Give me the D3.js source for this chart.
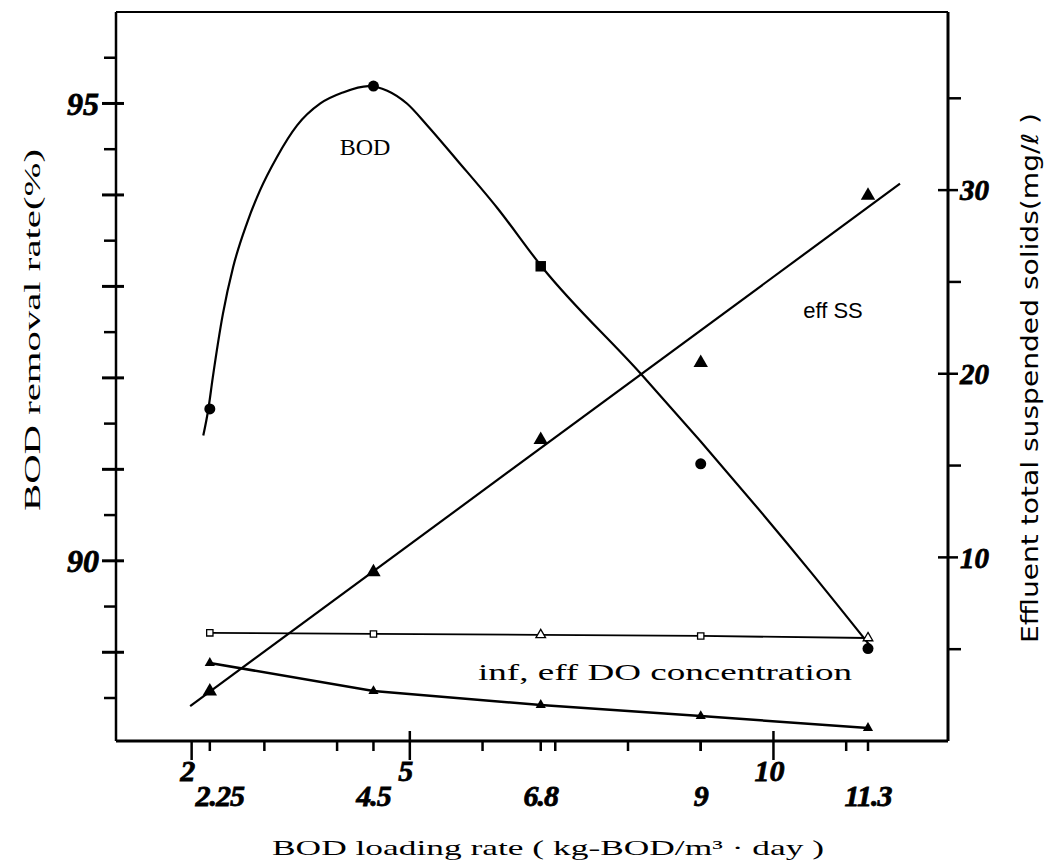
<!DOCTYPE html>
<html>
<head>
<meta charset="utf-8">
<script src="https://cdn.jsdelivr.net/npm/d3@7"></script>
<style>
  body { margin: 0; background: #fff; }
  svg text { fill: #000; }
</style>
</head>
<body>
<svg id="chart" width="1049" height="865"></svg>
<script>
// data
var loading    = [2.25, 4.5, 6.8, 9, 11.3];           // kg-BOD/m3.day
var bodRemoval = [91.66, 95.19, 93.22, 91.06, 89.04];   // %
var effSS      = [2.7, 9.2, 16.4, 20.6, 29.7];          // mg/l
var infDO      = [5.89, 5.83, 5.78, 5.72, 5.61];        // mg/l
var effDO      = [4.25, 2.72, 1.96, 1.36, 0.71];        // mg/l

// hand drawn BOD curve
var bodCurveX = [2.16, 2.23, 2.29, 2.43, 2.57, 2.76, 2.94, 3.17, 3.45, 3.77, 4.08, 4.43, 4.69, 4.96, 5.24, 5.65, 6.2, 6.82, 8.17, 10.5, 11.36];
var bodCurveY = [91.37, 91.66, 92.0, 92.7, 93.21, 93.69, 94.05, 94.41, 94.76, 95.0, 95.12, 95.19, 95.14, 95.0, 94.76, 94.38, 93.86, 93.21, 92.05, 89.89, 89.04];

// straight fit for eff SS
var ssFitX = [1.98, 11.74];
var ssFitY = [1.9, 30.35];

var xMajor = [2, 5, 10];
var xMinor = [3, 4, 6, 7, 8, 9, 11];
var leftLabels  = [90, 95];
var leftTicks   = [88.5, 89, 89.5, 90, 90.5, 91, 91.5, 92, 92.5, 93, 93.5, 94, 94.5, 95, 95.5];
var rightLabels = [10, 20, 30];
var rightTicks  = [5, 10, 15, 20, 25, 30, 35];

var margin = {top: 12, left: 116},
    width = 832,
    height = 729;

var svg = d3.select("#chart");
var g = svg.append("g").attr("transform", "translate(" + margin.left + "," + margin.top + ")");

var x  = d3.scaleLinear().domain([0.96, 12.4]).range([0, width]);
var yL = d3.scaleLinear().domain([88.03, 96.0]).range([height, 0]);
var yR = d3.scaleLinear().domain([0, 39.7]).range([height, 0]);

var serif = "'Liberation Serif', 'DejaVu Serif', serif";

// frame
g.append("line").attr("x1", 0).attr("x2", width).attr("y1", 0).attr("y2", 0)
    .attr("stroke", "#000").attr("stroke-width", 2);
g.append("line").attr("x1", 0).attr("x2", 0).attr("y1", 0).attr("y2", height)
    .attr("stroke", "#000").attr("stroke-width", 2.5);
g.append("line").attr("x1", width).attr("x2", width).attr("y1", 0).attr("y2", height)
    .attr("stroke", "#000").attr("stroke-width", 3);
g.append("line").attr("x1", 0).attr("x2", width).attr("y1", height).attr("y2", height)
    .attr("stroke", "#000").attr("stroke-width", 3);

// left ticks
g.selectAll(".ltick").data(leftTicks).enter().append("line")
    .attr("class", "ltick")
    .attr("x1", function(d) { return d % 1 === 0 ? -14 : -12; })
    .attr("x2", function(d) { return d % 1 === 0 ? 8 : 0; })
    .attr("y1", function(d) { return yL(d); })
    .attr("y2", function(d) { return yL(d); })
    .attr("stroke", "#000")
    .attr("stroke-width", function(d) { return d % 1 === 0 ? 3 : 2.5; });

function boldLabel(sel, size) {
    sel.style("font-family", serif)
        .style("font-style", "italic")
        .style("font-weight", "bold")
        .style("font-size", size)
        .attr("stroke", "#000")
        .attr("stroke-width", 0.8);
}

g.selectAll(".llab").data(leftLabels).enter().append("text")
    .attr("class", "llab")
    .attr("x", -17)
    .attr("y", function(d) { return yL(d); })
    .attr("dy", "0.35em")
    .attr("text-anchor", "end")
    .text(function(d) { return d; })
    .call(boldLabel, "32px");

// right ticks
g.selectAll(".rtick").data(rightTicks).enter().append("line")
    .attr("class", "rtick")
    .attr("x1", function(d) { return d % 10 === 0 ? width - 10 : width; })
    .attr("x2", function(d) { return d % 10 === 0 ? width + 10 : width + 13; })
    .attr("y1", function(d) { return yR(d); })
    .attr("y2", function(d) { return yR(d); })
    .attr("stroke", "#000")
    .attr("stroke-width", 2.5);

g.selectAll(".rlab").data(rightLabels).enter().append("text")
    .attr("class", "rlab")
    .attr("x", width + 12)
    .attr("y", function(d) { return yR(d); })
    .attr("dy", "0.35em")
    .text(function(d) { return d; })
    .call(boldLabel, "29px");

// bottom ticks
g.selectAll(".xmaj").data(xMajor).enter().append("line")
    .attr("class", "xmaj")
    .attr("x1", function(d) { return x(d); })
    .attr("x2", function(d) { return x(d); })
    .attr("y1", function(d) { return d === 2 ? height : height - 10; })
    .attr("y2", height + 19)
    .attr("stroke", "#000").attr("stroke-width", 2.5);

g.selectAll(".xmin").data(xMinor.concat(loading)).enter().append("line")
    .attr("class", "xmin")
    .attr("x1", function(d) { return x(d); })
    .attr("x2", function(d) { return x(d); })
    .attr("y1", height)
    .attr("y2", height + 10)
    .attr("stroke", "#000").attr("stroke-width", 2.5);

g.selectAll(".xmajlab").data(xMajor).enter().append("text")
    .attr("class", "xmajlab")
    .attr("x", function(d) { return x(d) - 4; })
    .attr("y", height + 40)
    .attr("text-anchor", "middle")
    .text(function(d) { return d; })
    .call(boldLabel, "30px");

g.selectAll(".xdatalab").data(loading).enter().append("text")
    .attr("class", "xdatalab")
    .attr("x", function(d) { return x(d) + (d === 2.25 ? 10 : 0); })
    .attr("y", height + 65)
    .attr("text-anchor", "middle")
    .style("letter-spacing", "-1px")
    .text(function(d) { return d; })
    .call(boldLabel, "30px");

// axis titles
g.append("text")
    .attr("transform", "translate(-84," + 318 + ") rotate(-90)")
    .attr("text-anchor", "middle")
    .attr("dy", "0.35em")
    .attr("textLength", 362)
    .attr("lengthAdjust", "spacingAndGlyphs")
    .style("font-family", serif)
    .style("font-size", "23px")
    .text("BOD removal rate(%)");

g.append("text")
    .attr("transform", "translate(" + (width + 82) + "," + 366 + ") rotate(-90)")
    .attr("text-anchor", "middle")
    .attr("dy", "0.35em")
    .attr("textLength", 530)
    .attr("lengthAdjust", "spacingAndGlyphs")
    .style("font-family", "'Liberation Sans Narrow', 'DejaVu Sans Condensed', sans-serif")
    .style("font-size", "23px")
    .text("Effluent total suspended solids(mg/ℓ )");

g.append("text")
    .attr("x", 432)
    .attr("y", height + 114)
    .attr("text-anchor", "middle")
    .attr("textLength", 552)
    .attr("lengthAdjust", "spacingAndGlyphs")
    .style("font-family", serif)
    .style("font-size", "22px")
    .text("BOD loading rate ( kg-BOD/m³ · day )");

// BOD curve
var bodPts = bodCurveX.map(function(d, i) { return [d, bodCurveY[i]]; });
var curveLine = d3.line()
    .x(function(d) { return x(d[0]); })
    .y(function(d) { return yL(d[1]); })
    .curve(d3.curveMonotoneX);
g.append("path")
    .attr("d", curveLine(bodPts))
    .attr("fill", "none").attr("stroke", "#000").attr("stroke-width", 2.2);

g.selectAll(".bodpt").data(loading).enter().append("path")
    .attr("class", "bodpt")
    .attr("d", function(d, i) { return d3.symbol().type(i === 2 ? d3.symbolSquare : d3.symbolCircle).size(i === 2 ? 110 : 95)(); })
    .attr("transform", function(d, i) { return "translate(" + x(d) + "," + yL(bodRemoval[i]) + ")"; })
    .attr("fill", "#000");

// eff SS fit and points
var rLine = d3.line()
    .x(function(d) { return x(d[0]); })
    .y(function(d) { return yR(d[1]); });
g.append("path")
    .attr("d", rLine(ssFitX.map(function(d, i) { return [d, ssFitY[i]]; })))
    .attr("fill", "none").attr("stroke", "#000").attr("stroke-width", 2.2);

var tri = d3.symbol().type(d3.symbolTriangle);
g.selectAll(".sspt").data(loading).enter().append("path")
    .attr("class", "sspt")
    .attr("d", tri.size(90)())
    .attr("transform", function(d, i) { return "translate(" + x(d) + "," + yR(effSS[i]) + ")"; })
    .attr("fill", "#000");

// DO lines
g.append("path")
    .attr("d", rLine(loading.map(function(d, i) { return [d, infDO[i]]; })))
    .attr("fill", "none").attr("stroke", "#000").attr("stroke-width", 1.8);
g.selectAll(".infpt").data(loading).enter().append("path")
    .attr("class", "infpt")
    .attr("d", function(d, i) { return d3.symbol().type(i % 2 === 0 && i > 0 ? d3.symbolTriangle : d3.symbolSquare).size(40)(); })
    .attr("transform", function(d, i) { return "translate(" + x(d) + "," + yR(infDO[i]) + ")"; })
    .attr("fill", "#fff").attr("stroke", "#000").attr("stroke-width", 1.3);

g.append("path")
    .attr("d", rLine(loading.map(function(d, i) { return [d, effDO[i]]; })))
    .attr("fill", "none").attr("stroke", "#000").attr("stroke-width", 2.5);
g.selectAll(".effpt").data(loading).enter().append("path")
    .attr("class", "effpt")
    .attr("d", tri.size(45)())
    .attr("transform", function(d, i) { return "translate(" + x(d) + "," + yR(effDO[i]) + ")"; })
    .attr("fill", "#000");

// series labels
g.append("text")
    .attr("x", 249).attr("y", 143)
    .attr("text-anchor", "middle")
    .style("font-family", serif)
    .style("font-size", "24px")
    .text("BOD");

g.append("text")
    .attr("x", 717).attr("y", 306)
    .attr("text-anchor", "middle")
    .style("font-family", "'Liberation Sans', Arial, sans-serif")
    .style("font-size", "22px")
    .text("eff  SS");

g.append("text")
    .attr("x", 549).attr("y", 668)
    .attr("text-anchor", "middle")
    .attr("textLength", 374)
    .attr("lengthAdjust", "spacingAndGlyphs")
    .style("font-family", serif)
    .style("font-size", "24px")
    .text("inf, eff DO concentration");
</script>
</body>
</html>
